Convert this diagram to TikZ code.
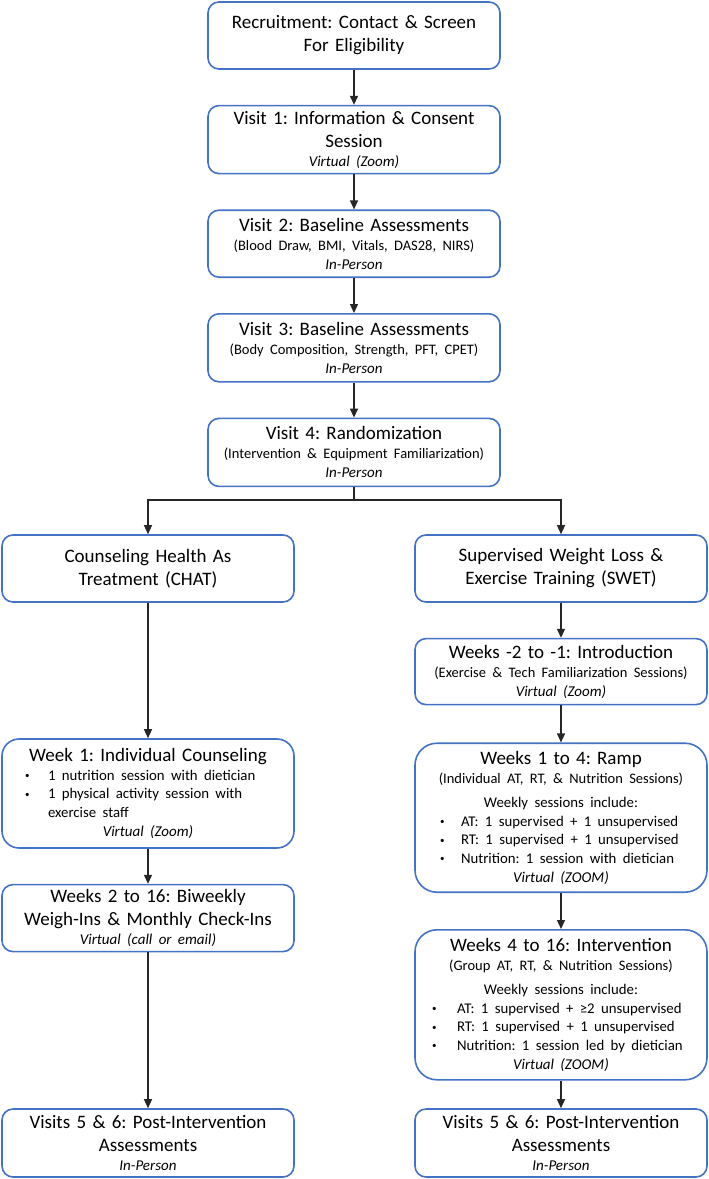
\documentclass[tikz,border=0pt]{standalone}
\usepackage{fontspec}
\setmainfont{Carlito}
\usepackage{tikz}
\usetikzlibrary{arrows.meta,positioning}
\frenchspacing
\definecolor{boxblue}{RGB}{68,114,196}
\newcommand\ttlfont{\fontsize{19}{23}\selectfont}
\newcommand\subfont{\fontsize{14.5}{19}\selectfont}
\newcommand\listfont{\fontsize{14.8}{18.5}\selectfont}
\newcommand\viafont{\fontsize{15}{19}\selectfont\itshape}
\newcommand\bitem[3]{\hspace*{#1}\makebox[#2][l]{\raisebox{1.5pt}{\fontsize{9}{9}\selectfont\textbullet}}#3}
\tikzset{
  box/.style={draw=boxblue, line width=1.6pt, rounded corners=11pt, align=center,
    fill=white, text width=284pt, inner xsep=4pt, inner ysep=2pt,
    minimum height=67pt, font=\ttlfont},
  bigbox/.style={box, rounded corners=22pt},
  arr/.style={-{Triangle[length=9pt,width=8pt]}, line width=1.3pt, black!85},
  link/.style={line width=1.3pt, black!85}
}

\begin{document}
\begin{tikzpicture}[x=1pt, y=1pt, node distance=35pt]
  \useasboundingbox (0,0) rectangle (709,-1179);
  % screening and baseline visits
  \node[box] (recruit) at (354,-35.5) {Recruitment: Contact \& Screen\\For Eligibility};
  \node[box, below=of recruit, minimum height=68pt] (visit1) {Visit 1: Information \& Consent\\Session\par{\viafont Virtual (Zoom)\par}};
  \node[box, below=of visit1] (visit2) {Visit 2: Baseline Assessments\par{\subfont (Blood Draw, BMI, Vitals, DAS28, NIRS)\par}{\viafont In-Person\par}};
  \node[box, below=of visit2, minimum height=68pt] (visit3) {Visit 3: Baseline Assessments\par{\subfont (Body Composition, Strength, PFT, CPET)\par}{\viafont In-Person\par}};
  \node[box, below=of visit3, minimum height=68pt] (visit4) {Visit 4: Randomization\par{\subfont (Intervention \& Equipment Familiarization)\par}{\viafont In-Person\par}};
  \coordinate (split) at (354,-500);

  % CHAT arm
  \node[box] (chat) at (148,-568.5) {Counseling Health As\\Treatment (CHAT)};
  \node[box, rounded corners=17pt, minimum height=109pt] (week1) at (148,-793.5) {Week 1: Individual Counseling\par
    {\listfont\raggedright
    \bitem{19pt}{23pt}{1 nutrition session with dietician}\\
    \bitem{19pt}{23pt}{1 physical activity session with}\\
    \hspace*{42pt}exercise staff\par}
    {\viafont Virtual (Zoom)\par}};
  \node[box, below=of week1] (weighin) {Weeks 2 to 16: Biweekly\\Weigh-Ins \& Monthly Check-Ins\par{\viafont Virtual (call or email)\par}};
  \node[box, minimum height=68pt] (postchat) at (148,-1143) {Visits 5 \& 6: Post-Intervention\\Assessments\par{\viafont In-Person\par}};

  % SWET arm
  \node[box] (swet) at (561,-568.5) {Supervised Weight Loss \&\\Exercise Training (SWET)};
  \node[box, below=of swet, minimum height=66pt] (intro) {Weeks -2 to -1: Introduction\par{\subfont (Exercise \& Tech Familiarization Sessions)\par}{\viafont Virtual (Zoom)\par}};
  \node[bigbox, below=37pt of intro, minimum height=149pt] (ramp) {Weeks 1 to 4: Ramp\par
    {\subfont (Individual AT, RT, \& Nutrition Sessions)\par}
    \vspace{6pt}
    {\listfont Weekly sessions include:\par}
    {\listfont\raggedright
    \bitem{21pt}{21pt}{AT: 1 supervised + 1 unsupervised}\\
    \bitem{21pt}{21pt}{RT: 1 supervised + 1 unsupervised}\\
    \bitem{21pt}{21pt}{Nutrition: 1 session with dietician}\par}
    {\viafont Virtual (ZOOM)\par}};
  \node[bigbox, below=36pt of ramp, minimum height=150pt] (interv) {Weeks 4 to 16: Intervention\par
    {\subfont (Group AT, RT, \& Nutrition Sessions)\par}
    \vspace{6pt}
    {\listfont Weekly sessions include:\par}
    {\listfont\raggedright
    \bitem{13pt}{25pt}{AT: 1 supervised + ≥2 unsupervised}\\
    \bitem{13pt}{25pt}{RT: 1 supervised + 1 unsupervised}\\
    \bitem{13pt}{25pt}{Nutrition: 1 session led by dietician}\par}
    {\viafont Virtual (ZOOM)\par}};
  \node[box, minimum height=68pt] (postswet) at (561,-1143) {Visits 5 \& 6: Post-Intervention\\Assessments\par{\viafont In-Person\par}};

  % connectors
  \draw[arr] (recruit) -- (visit1);
  \draw[arr] (visit1) -- (visit2);
  \draw[arr] (visit2) -- (visit3);
  \draw[arr] (visit3) -- (visit4);
  \draw[link] (visit4) -- (split);
  \draw[arr] (split) -| (chat);
  \draw[arr] (split) -| (swet);
  \draw[arr] (chat) -- (week1);
  \draw[arr] (week1) -- (weighin);
  \draw[arr] (weighin) -- (postchat);
  \draw[arr] (swet) -- (intro);
  \draw[arr] (intro) -- (ramp);
  \draw[arr] (ramp) -- (interv);
  \draw[arr] (interv) -- (postswet);
\end{tikzpicture}
\end{document}
